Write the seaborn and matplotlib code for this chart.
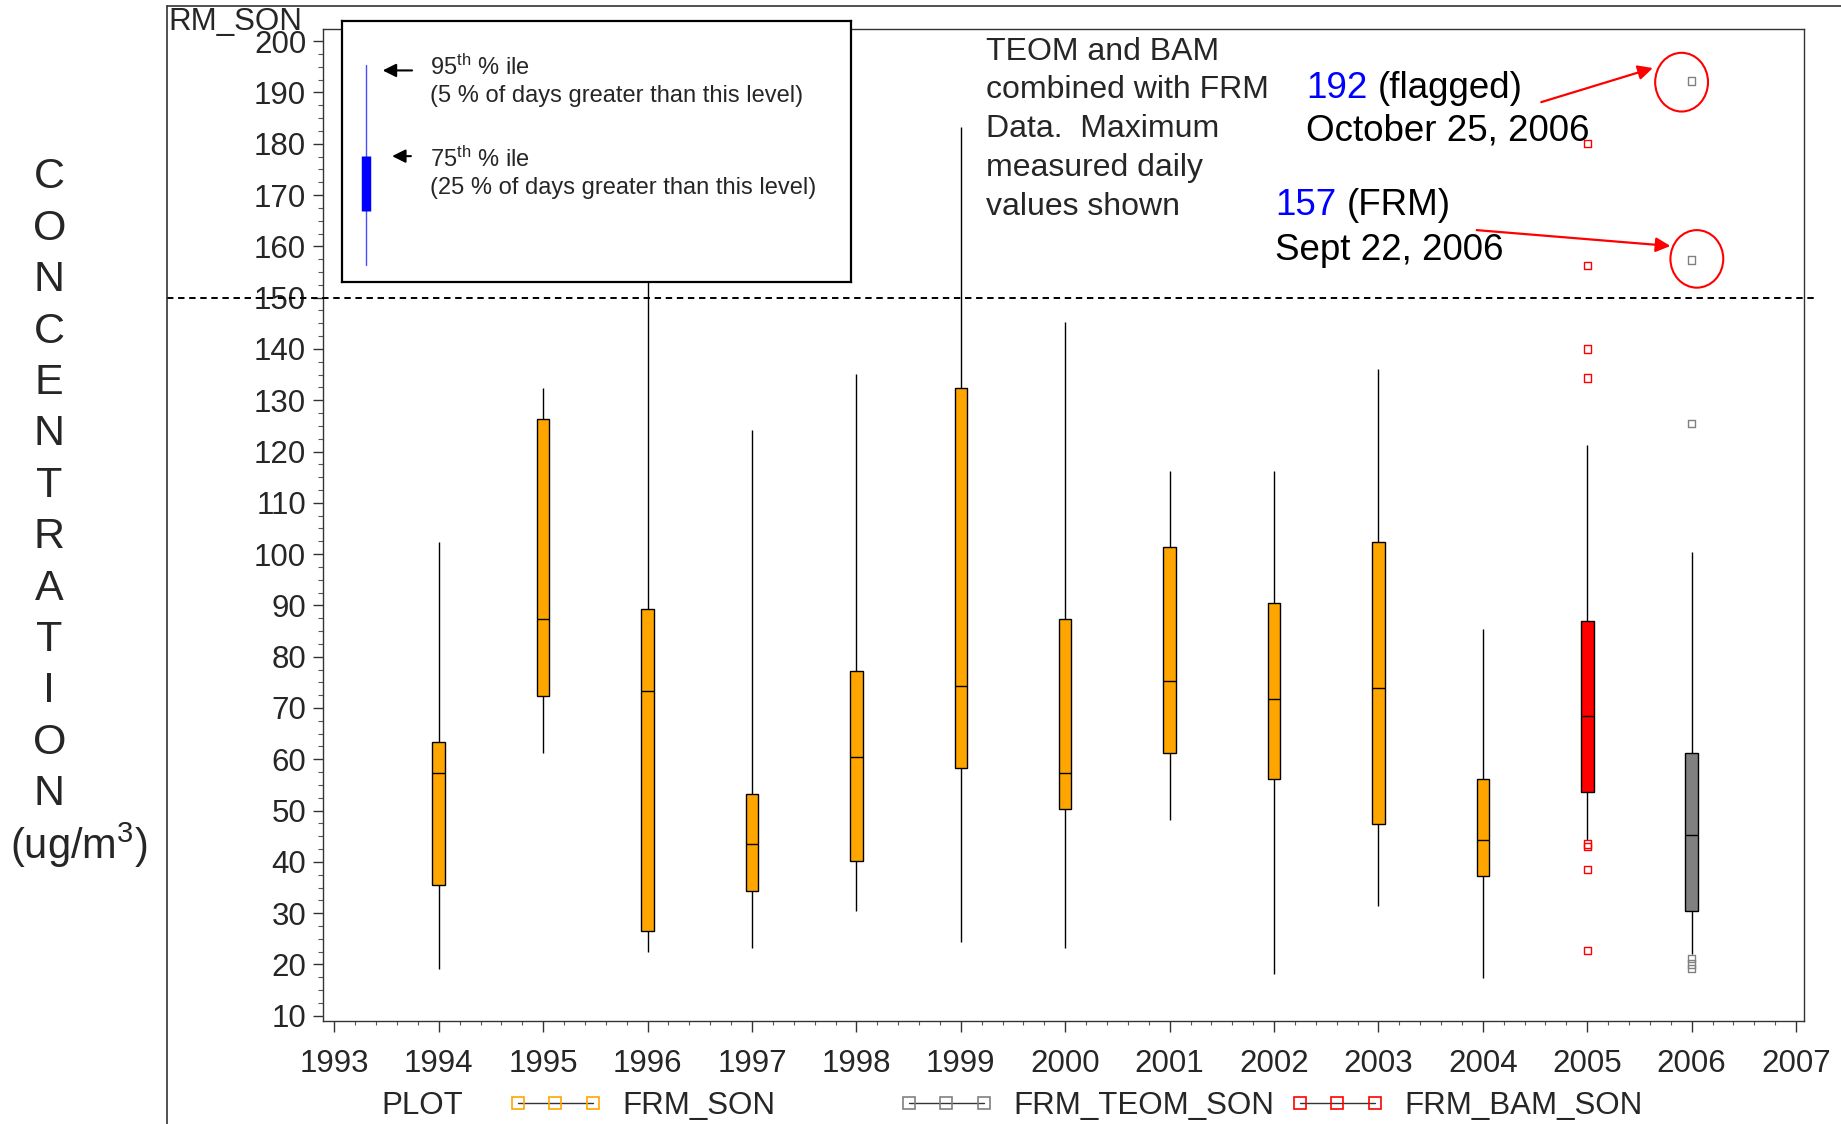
import numpy as np
import pandas as pd
import matplotlib
matplotlib.use("Agg")
import matplotlib.pyplot as plt
import seaborn as sns
from matplotlib.lines import Line2D
from matplotlib.patches import Ellipse
from matplotlib.transforms import blended_transform_factory

# ---------------- data ----------------
years = [1994, 1995, 1996, 1997, 1998, 1999, 2000, 2001, 2002, 2003, 2004, 2005, 2006]
series = ["FRM_SON"] * 11 + ["FRM_BAM_SON", "FRM_TEOM_SON"]
whisker_low = [19.2, 61.3, 22.4, 23.3, 30.4, 24.4, 23.3, 48.2, 18.2, 31.3, 17.3, 44.2, 22.1]
q1 = [35.4, 72.3, 26.5, 34.3, 40.2, 58.3, 50.3, 61.3, 56.2, 47.3, 37.2, 53.7, 30.4]
median = [57.4, 87.4, 73.4, 43.4, 60.4, 74.3, 57.4, 75.2, 71.8, 73.9, 44.3, 68.4, 45.3]
q3 = [63.3, 126.3, 89.2, 53.3, 77.3, 132.3, 87.4, 101.3, 90.4, 102.3, 56.2, 86.9, 61.3]
whisker_high = [102.3, 132.3, 175.0, 124.2, 135.2, 183.3, 145.3, 116.2, 116.2, 136.1, 85.3, 121.3, 100.4]

outlier_year = [2005] * 8 + [2006] * 6
outlier_value = [180.1, 156.3, 140.0, 134.3, 43.5, 43.0, 38.5, 22.7,
                 192.2, 157.3, 125.4, 21.1, 20.1, 19.2]
outlier_series = ["FRM_BAM_SON"] * 8 + ["FRM_TEOM_SON"] * 6

legend_labels = ["FRM_SON", "FRM_TEOM_SON", "FRM_BAM_SON"]
x_ticks = list(range(1993, 2008))
y_ticks = list(range(10, 201, 10))
ylabel_letters = list("CONCENTRATION")

palette = {"FRM_SON": "#FFA500", "FRM_BAM_SON": "#FF0000", "FRM_TEOM_SON": "#808080"}

rows = []
for i, yr_ in enumerate(years):
    for v in (whisker_low[i], q1[i], median[i], q3[i], whisker_high[i]):
        rows.append((yr_, v, series[i]))
df = pd.DataFrame(rows, columns=["year", "conc", "plot"])
out_df = pd.DataFrame({"year": outlier_year, "conc": outlier_value, "plot": outlier_series})

# ---------------- style ----------------
sns.set_style("ticks")
plt.rcParams["font.family"] = ["Liberation Sans", "DejaVu Sans"]
plt.rcParams["mathtext.fontset"] = "custom"
plt.rcParams["mathtext.rm"] = "Liberation Sans"
plt.rcParams["mathtext.it"] = "Liberation Sans:italic"
plt.rcParams["mathtext.bf"] = "Liberation Sans:bold"

W, H = 1841, 1124
fig = plt.figure(figsize=(W / 100, H / 100), dpi=100)
fig.patch.set_facecolor("white")

S = 1.174  # reference display -> pixel scale
def fx(xd):
    return xd * S / W
def fy(yd):
    return 1 - yd * S / H

ax_l, ax_r, ax_t, ax_b = fx(275), fx(1537), fy(25), fy(870)
ax = fig.add_axes([ax_l, ax_b, ax_r - ax_l, ax_t - ax_b])

sns.boxplot(data=df, x="year", y="conc", hue="plot", palette=palette,
            native_scale=True, dodge=False, width=0.12, whis=(0, 100),
            saturation=1, linecolor="black", linewidth=1, showcaps=False,
            legend=False, ax=ax)

for name in ["FRM_BAM_SON", "FRM_TEOM_SON"]:
    sub = out_df[out_df["plot"] == name]
    sns.scatterplot(x=sub["year"], y=sub["conc"], ax=ax, marker="s", s=28,
                    color=palette[name], facecolor="none", edgecolor=palette[name],
                    linewidth=1, legend=False, zorder=4)

ax.set_xlim(1992.89, 2007.08)
ax.set_ylim(8.9, 202.3)
ax.set_xticks(x_ticks)
ax.set_xticklabels([str(t) for t in x_ticks])
ax.set_xticks(np.arange(1993, 2007.01, 0.2), minor=True)
ax.set_yticks(y_ticks)
ax.set_yticklabels([str(t) for t in y_ticks])
ax.set_yticks([v for v in np.arange(10, 200.1, 2.5) if v % 10 != 0], minor=True)
ax.set_xlabel("")
ax.set_ylabel("")
ax.tick_params(axis="x", which="major", length=8, width=1, labelsize=22.5, pad=12, color="#333333")
ax.tick_params(axis="x", which="minor", length=3, width=0.8, color="#555555")
ax.tick_params(axis="y", which="major", length=7, width=1, labelsize=22.5, pad=5, color="#333333")
ax.tick_params(axis="y", which="minor", length=3.3, width=0.8, color="#555555")
for sp in ax.spines.values():
    sp.set_visible(True)
    sp.set_linewidth(1)
    sp.set_color("#333333")

# dashed 150 line across
trans = blended_transform_factory(fig.transFigure, ax.transData)
fig.add_artist(Line2D([fx(142), fx(1545)], [150, 150], transform=trans,
                      color="black", lw=1.4, ls=(0, (3.3, 2.4))))

# outer frame
fig.add_artist(Line2D([fx(142), fx(142)], [0, fy(5)], transform=fig.transFigure, color="#333333", lw=1.2))
fig.add_artist(Line2D([fx(142), 1], [fy(5), fy(5)], transform=fig.transFigure, color="#333333", lw=1.2))
fig.text(fx(143), fy(6), "RM_SON", fontsize=22.5, ha="left", va="top")

# annotation text
def yr(xd):
    return 1993 + (xd - 285) / 88.93
def val(yd):
    return 10 + (865 - yd) / 4.368

note_lines = ["TEOM and BAM", "combined with FRM", "Data.  Maximum", "measured daily", "values shown"]
for i, line in enumerate(note_lines):
    ax.text(yr(840), val(44 + 33 * i), line, fontsize=23, ha="left", va="center")

ax.text(yr(1113), val(75), "192", color="#0000FF", fontsize=26.5, ha="left", va="center")
ax.text(yr(1174), val(75), "(flagged)", color="black", fontsize=26.5, ha="left", va="center")
ax.text(yr(1113), val(112), "October 25, 2006", color="black", fontsize=26.5, ha="left", va="center")
ax.text(yr(1086), val(175), "157", color="#0000FF", fontsize=26.5, ha="left", va="center")
ax.text(yr(1147), val(175), "(FRM)", color="black", fontsize=26.5, ha="left", va="center")
ax.text(yr(1086), val(213), "Sept 22, 2006", color="black", fontsize=26.5, ha="left", va="center")

ap = dict(arrowstyle="-|>", color="#FF0000", lw=1.6, mutation_scale=22, shrinkA=0, shrinkB=0)
ax.annotate("", xy=(yr(1408), val(58)), xytext=(yr(1313), val(87)), arrowprops=ap)
ax.annotate("", xy=(yr(1423), val(209.5)), xytext=(yr(1258), val(196)), arrowprops=ap)
ax.add_patch(Ellipse((yr(1432.5), val(70)), 45 / 88.93, 50 / 4.368, fill=False, edgecolor="#FF0000", lw=1.5))
ax.add_patch(Ellipse((yr(1445.5), val(220.5)), 45 / 88.93, 49 / 4.368, fill=False, edgecolor="#FF0000", lw=1.5))

# y label
for i, ch in enumerate(ylabel_letters):
    fig.text(fx(42), fy(151 + 43.8 * i), ch, fontsize=31, ha="center", va="center")
fig.text(fx(67), fy(720), "(ug/m$^{3}$)", fontsize=30, ha="center", va="center")

# inset key box
bx0, bx1, by0, by1 = 291, 725, 18, 240
lax = fig.add_axes([fx(bx0), fy(by1), fx(bx1) - fx(bx0), fy(by0) - fy(by1)])
lax.set_xlim(0, 1)
lax.set_ylim(0, 1)
lax.set_xticks([])
lax.set_yticks([])
lax.set_facecolor("white")
for sp in lax.spines.values():
    sp.set_linewidth(1.6)
    sp.set_color("black")
def lx(xd):
    return (xd - bx0) / (bx1 - bx0)
def ly(yd):
    return (by1 - yd) / (by1 - by0)
lax.plot([lx(312), lx(312)], [ly(226), ly(55)], color="#4a4aff", lw=1)
lax.plot([lx(312), lx(312)], [ly(180), ly(133)], color="#0000FF", lw=6.8, solid_capstyle="butt")
kap = dict(arrowstyle="-|>", color="black", lw=1.5, mutation_scale=20, shrinkA=0, shrinkB=0)
lax.annotate("", xy=(lx(326), ly(60)), xytext=(lx(351), ly(60)), arrowprops=kap)
lax.annotate("", xy=(lx(334), ly(133)), xytext=(lx(350), ly(133)), arrowprops=kap)
lax.text(lx(366), ly(57), "95$^{\\mathrm{th}}$ % ile", fontsize=17, ha="left", va="center")
lax.text(lx(366), ly(82), "(5 % of days greater than this level)", fontsize=17, ha="left", va="center")
lax.text(lx(366), ly(136), "75$^{\\mathrm{th}}$ % ile", fontsize=17, ha="left", va="center")
lax.text(lx(366), ly(160), "(25 % of days greater than this level)", fontsize=17, ha="left", va="center")

# bottom legend
fig.text(fx(325), fy(942), "PLOT", fontsize=22.5, ha="left", va="center")
leg_colors = {"FRM_SON": "#FFA500", "FRM_TEOM_SON": "#808080", "FRM_BAM_SON": "#FF0000"}
leg_x = {"FRM_SON": 433, "FRM_TEOM_SON": 766, "FRM_BAM_SON": 1099}
for name in legend_labels:
    h = Line2D([0], [0], color="#333333", lw=1, marker="s", markersize=9,
               markerfacecolor="none", markeredgecolor=leg_colors[name], markeredgewidth=1.2)
    fig.legend(handles=[h], labels=[name], loc="center left",
               bbox_to_anchor=(fx(leg_x[name]), fy(942)), frameon=False,
               numpoints=3, handlelength=3.0, handletextpad=0.65,
               borderpad=0, borderaxespad=0, fontsize=22.5)

fig.savefig("out.png", dpi=100, facecolor="white")
